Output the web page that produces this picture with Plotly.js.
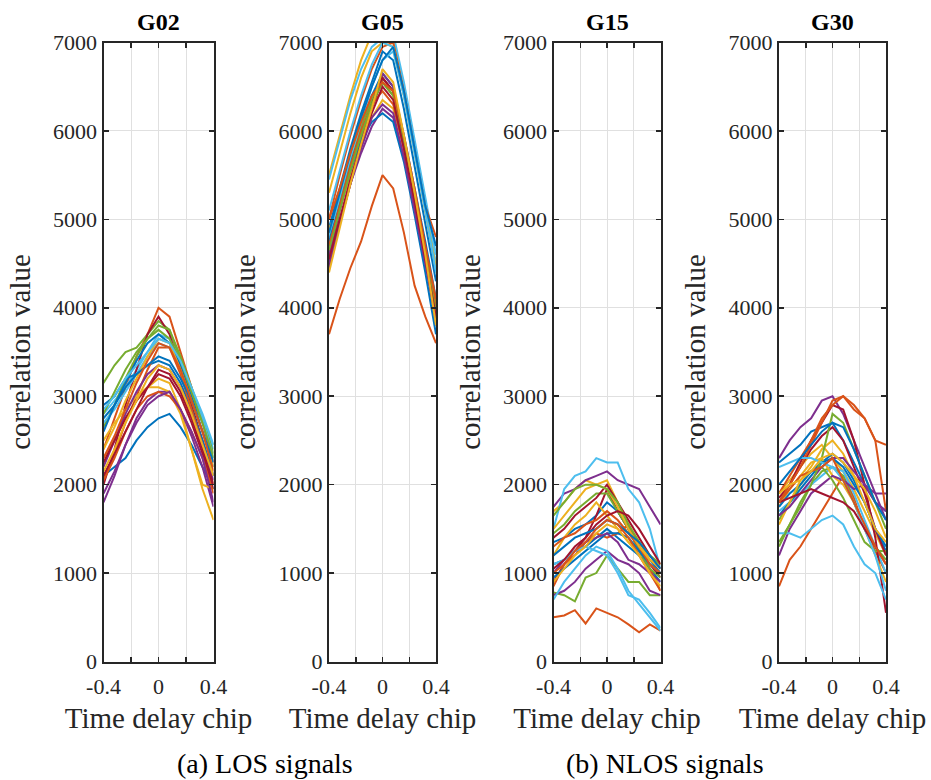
<!DOCTYPE html>
<html>
<head>
<meta charset="utf-8">
<script src="https://cdn.plot.ly/plotly-3.0.1.min.js"></script>
<style>
html,body{margin:0;padding:0;background:#fff;}
#chart{width:931px;height:780px;}
</style>
</head>
<body>
<div id="chart"></div>
<script>
// Time delay (chip) sample positions
const delayChips = [-0.4, -0.32, -0.24, -0.16, -0.08, 0, 0.08, 0.16, 0.24, 0.32, 0.4];

// Satellite names (panel titles)
const satellites = ["G02", "G05", "G15", "G30"];

// Tick labels
const xTickVals = [-0.4, -0.2, 0, 0.2, 0.4];
const xTickText = ["-0.4", "", "0", "", "0.4"];
const yTickVals = [0, 1000, 2000, 3000, 4000, 5000, 6000, 7000];
const yTickText = ["0", "1000", "2000", "3000", "4000", "5000", "6000", "7000"];

// Captions
const captions = ["(a) LOS signals", "(b) NLOS signals"];

// Correlation values per epoch, G02 (LOS)
const corrG02 = [
  [2100, 2200, 2300, 2500, 2650, 2750, 2800, 2650, 2450, 2200, 1950],
  [2400, 2750, 3100, 3450, 3700, 4000, 3900, 3500, 3100, 2700, 2250],
  [2300, 2500, 2750, 2950, 3100, 3200, 3150, 2850, 2400, 1950, 1600],
  [1800, 2100, 2450, 2750, 2950, 3050, 3050, 2850, 2550, 2200, 1750],
  [3150, 3350, 3500, 3550, 3700, 3850, 3750, 3400, 3000, 2700, 2450],
  [2800, 2950, 3100, 3300, 3500, 3700, 3650, 3400, 3050, 2750, 2400],
  [2000, 2400, 2900, 3300, 3700, 3900, 3700, 3300, 2900, 2500, 2100],
  [2900, 3000, 3200, 3250, 3350, 3400, 3350, 3150, 2850, 2500, 2100],
  [2050, 2350, 2700, 3000, 3300, 3550, 3550, 3250, 2850, 2450, 2000],
  [2500, 2700, 2850, 3000, 3100, 3100, 3050, 2800, 2400, 2000, 1950],
  [2200, 2500, 2800, 3050, 3250, 3350, 3300, 3100, 2800, 2450, 2050],
  [2650, 2900, 3200, 3450, 3650, 3800, 3750, 3450, 3100, 2750, 2350],
  [2700, 2850, 3050, 3250, 3450, 3600, 3550, 3350, 3050, 2750, 2300],
  [2250, 2500, 2750, 2950, 3100, 3250, 3200, 3000, 2700, 2350, 1950],
  [2600, 2900, 3150, 3400, 3600, 3700, 3600, 3350, 3000, 2600, 2200],
  [2050, 2300, 2600, 2850, 3000, 3050, 3000, 2850, 2600, 2300, 1900],
  [2400, 2650, 2950, 3200, 3450, 3650, 3600, 3300, 2950, 2600, 2200],
  [1900, 2150, 2450, 2700, 2900, 3000, 3050, 2850, 2600, 2300, 1800],
  [2800, 3050, 3300, 3500, 3650, 3750, 3650, 3400, 3050, 2700, 2300],
  [2850, 3000, 3200, 3350, 3500, 3650, 3600, 3400, 3100, 2800, 2450],
  [2100, 2350, 2600, 2850, 3100, 3300, 3250, 3050, 2750, 2400, 2000],
  [2750, 2900, 3100, 3250, 3350, 3450, 3400, 3200, 2950, 2600, 2250],
  [2300, 2550, 2850, 3150, 3400, 3600, 3550, 3300, 2950, 2600, 2150],
  [2150, 2400, 2700, 2950, 3200, 3350, 3300, 3100, 2800, 2450, 2100]
];

// Correlation values per epoch, G05 (LOS)
const corrG05 = [
  [4700, 5200, 5650, 6050, 6400, 6650, 6500, 5950, 5350, 4750, 4100],
  [3700, 4100, 4450, 4750, 5150, 5500, 5350, 4850, 4250, 3900, 3600],
  [5500, 5950, 6400, 6800, 7100, 7200, 7050, 6450, 5800, 5100, 4400],
  [4450, 4950, 5450, 5900, 6300, 6650, 6500, 5900, 5250, 4550, 3800],
  [4800, 5250, 5700, 6050, 6350, 6600, 6450, 5900, 5300, 4650, 4050],
  [5450, 5900, 6350, 6700, 6950, 7050, 7100, 6550, 5900, 5250, 4600],
  [4600, 5100, 5550, 5950, 6300, 6600, 6450, 5900, 5300, 4700, 4000],
  [4900, 5350, 5800, 6200, 6550, 6900, 6800, 6250, 5600, 4950, 4300],
  [5000, 5500, 5950, 6350, 6700, 6950, 7000, 6450, 5800, 5150, 4800],
  [4900, 5150, 5500, 5850, 6150, 6350, 6250, 5800, 5200, 4600, 4000],
  [4600, 5000, 5400, 5750, 6050, 6250, 6150, 5700, 5100, 4500, 3900],
  [4700, 5150, 5600, 5950, 6300, 6550, 6400, 5850, 5250, 4650, 4000],
  [4800, 5250, 5700, 6100, 6500, 6800, 6900, 6400, 5800, 5150, 4500],
  [4500, 4950, 5400, 5850, 6250, 6600, 6450, 5850, 5200, 4550, 3850],
  [4750, 5150, 5550, 5900, 6100, 6200, 6100, 5650, 5050, 4400, 3700],
  [4700, 5150, 5600, 6000, 6300, 6450, 6300, 5800, 5200, 4600, 4000],
  [5300, 5750, 6200, 6600, 6900, 7000, 6950, 6400, 5750, 5100, 4450],
  [4500, 4950, 5400, 5800, 6150, 6300, 6200, 5700, 5100, 4500, 3900],
  [4650, 5100, 5550, 5950, 6300, 6550, 6400, 5850, 5250, 4600, 3950],
  [5100, 5550, 6000, 6400, 6750, 7000, 6950, 6400, 5750, 5100, 4400],
  [4550, 5000, 5450, 5850, 6200, 6500, 6350, 5800, 5200, 4550, 3900],
  [4850, 5300, 5750, 6150, 6500, 6800, 6950, 6450, 5800, 5150, 4700],
  [5000, 5350, 5750, 6100, 6400, 6550, 6450, 5950, 5350, 4700, 4100],
  [4400, 4900, 5400, 5850, 6250, 6700, 6550, 5950, 5300, 4600, 3800]
];

// Correlation values per epoch, G15 (NLOS)
const corrG15 = [
  [1350, 1400, 1500, 1550, 1650, 1800, 1700, 1500, 1300, 1150, 1000],
  [500, 520, 580, 430, 600, 550, 500, 420, 330, 420, 350],
  [1700, 1800, 1950, 2050, 2000, 2050, 1800, 1550, 1350, 1150, 1050],
  [1750, 1900, 1950, 2050, 2100, 2150, 2050, 2000, 1950, 1750, 1550],
  [780, 750, 680, 950, 1000, 1200, 1050, 900, 900, 750, 750],
  [1500, 1950, 2100, 2150, 2300, 2250, 2250, 1950, 1800, 1500, 1050],
  [900, 1100, 1250, 1400, 1650, 1950, 1700, 1500, 1250, 1100, 950],
  [1100, 1150, 1250, 1300, 1400, 1500, 1400, 1300, 1200, 1050, 900],
  [850, 1100, 1200, 1350, 1450, 1400, 1450, 1550, 1300, 1050, 800],
  [1200, 1400, 1550, 1650, 1800, 1650, 1500, 1350, 1250, 1100, 1000],
  [750, 800, 900, 1050, 1150, 1250, 1150, 1100, 1000, 800, 750],
  [1450, 1550, 1700, 1800, 1900, 1900, 1700, 1500, 1250, 1050, 950],
  [700, 900, 1050, 1200, 1300, 1250, 1050, 800, 650, 500, 350],
  [1400, 1500, 1650, 1750, 1850, 2000, 1800, 1600, 1400, 1200, 1050],
  [950, 1050, 1150, 1250, 1350, 1450, 1450, 1400, 1250, 1100, 1000],
  [1300, 1400, 1450, 1550, 1600, 1700, 1600, 1450, 1300, 1100, 1000],
  [1500, 1650, 1800, 1950, 2000, 1950, 1750, 1500, 1300, 1150, 1100],
  [1000, 1150, 1250, 1350, 1400, 1450, 1350, 1150, 1100, 1000, 900],
  [1650, 1800, 1950, 2000, 2000, 1950, 1800, 1550, 1350, 1200, 1100],
  [1100, 1150, 1250, 1300, 1250, 1200, 1000, 750, 700, 550, 380],
  [1050, 1150, 1300, 1400, 1550, 1650, 1700, 1650, 1500, 1300, 1100],
  [1200, 1300, 1400, 1450, 1500, 1600, 1550, 1450, 1350, 1200, 1050],
  [1000, 1100, 1250, 1350, 1500, 1600, 1550, 1400, 1200, 1000, 800],
  [900, 1050, 1200, 1300, 1450, 1550, 1500, 1350, 1200, 1000, 850]
];

// Correlation values per epoch, G30 (NLOS)
const corrG30 = [
  [2250, 2350, 2450, 2600, 2650, 2700, 2500, 2250, 2000, 1800, 1700],
  [850, 1150, 1300, 1500, 1700, 1900, 2100, 1850, 1500, 1250, 1000],
  [1900, 2050, 2200, 2350, 2450, 2300, 2150, 1950, 1700, 1450, 1200],
  [2300, 2500, 2650, 2750, 2950, 3000, 2800, 2500, 2200, 1900, 1600],
  [1350, 1550, 1800, 2000, 2150, 2200, 2100, 1800, 1500, 1300, 1150],
  [1700, 1800, 1900, 2000, 2100, 2200, 2150, 1900, 1600, 1300, 1000],
  [1800, 2000, 2250, 2500, 2700, 2900, 2850, 2500, 2000, 1400, 550],
  [1650, 1800, 1950, 2100, 2250, 2350, 2250, 2050, 1800, 1500, 1250],
  [1900, 2100, 2300, 2500, 2750, 2900, 3000, 2850, 2750, 2500, 2450],
  [1750, 1950, 2100, 2250, 2300, 2100, 2000, 1800, 1500, 1200, 900],
  [1200, 1500, 1700, 1900, 2000, 2100, 2050, 1950, 2000, 1900, 1900],
  [1600, 1800, 2000, 2150, 2200, 2050, 1850, 1600, 1350, 1250, 1250],
  [1450, 1450, 1400, 1500, 1600, 1650, 1550, 1300, 1100, 1000, 700],
  [1850, 2000, 2200, 2400, 2550, 2650, 2500, 2200, 1900, 1500, 1200],
  [1750, 1900, 2000, 2150, 2250, 2300, 2200, 2000, 1800, 1500, 1300],
  [1800, 2000, 2200, 2450, 2700, 2950, 3000, 2900, 2750, 2500, 1700],
  [1550, 1800, 2050, 2200, 2400, 2500, 2350, 2100, 1800, 1500, 1350],
  [1650, 1750, 1900, 2050, 2200, 2300, 2300, 2150, 2000, 1800, 1700],
  [1300, 1550, 1750, 2000, 2300, 2800, 2700, 2400, 2100, 1800, 1500],
  [2200, 2250, 2300, 2300, 2250, 2200, 2050, 1800, 1500, 1200, 800],
  [1800, 1850, 1900, 1950, 1900, 1850, 1800, 1700, 1500, 1300, 1100],
  [2000, 2150, 2300, 2450, 2600, 2700, 2650, 2400, 2100, 1800, 1600],
  [1800, 1950, 2100, 2150, 2200, 2300, 2050, 1800, 1550, 1300, 1100],
  [1900, 2000, 2050, 2150, 2300, 2350, 2250, 2100, 1950, 1700, 1400]
];

// MATLAB default line colour order
const colorOrder = ["#0072BD", "#D95319", "#EDB120", "#7E2F8E", "#77AC30", "#4DBEEE", "#A2142F"];

const panels = [corrG02, corrG05, corrG15, corrG30];
const W = 931, H = 780;
const xPix = [[103.5, 213.5], [329, 436], [553.5, 660.5], [779, 886]];
const yTop = 42.5, yBot = 661.5;

const traces = [];
panels.forEach((series, p) => {
  const ax = p === 0 ? "" : String(p + 1);
  series.forEach((vals, i) => {
    traces.push({
      type: "scatter", mode: "lines",
      x: delayChips, y: vals,
      xaxis: "x" + ax, yaxis: "y" + ax,
      line: {color: colorOrder[i % colorOrder.length], width: 2},
      showlegend: false, hoverinfo: "skip"
    });
  });
});

const font = "'Liberation Serif'";
const axColor = "#262626";
const layout = {
  width: W, height: H,
  margin: {l: 0, r: 0, t: 0, b: 0},
  paper_bgcolor: "#ffffff", plot_bgcolor: "#ffffff",
  showlegend: false,
  font: {family: font, color: axColor},
  annotations: []
};

satellites.forEach((name, p) => {
  const ax = p === 0 ? "" : String(p + 1);
  const d = [xPix[p][0] / W, xPix[p][1] / W];
  layout["xaxis" + ax] = {
    domain: d, anchor: "y" + ax, range: [-0.4, 0.4],
    tickmode: "array", tickvals: xTickVals, ticktext: xTickText,
    ticks: "inside", ticklen: 5, tickwidth: 1.5, tickcolor: axColor,
    showline: true, linecolor: axColor, linewidth: 2, mirror: "ticks",
    showgrid: true, gridcolor: "#e0e0e0", gridwidth: 1, zeroline: false,
    tickfont: {family: font, size: 22, color: axColor},
    ticklabelstandoff: 4,
    title: {text: "Time delay chip", font: {family: font, size: 29, color: axColor}, standoff: 10},
    automargin: false, fixedrange: true
  };
  layout["yaxis" + ax] = {
    domain: [1 - yBot / H, 1 - yTop / H], anchor: "x" + ax, range: [0, 7000],
    tickmode: "array", tickvals: yTickVals, ticktext: yTickText,
    ticks: "inside", ticklen: 5, tickwidth: 1.5, tickcolor: axColor,
    showline: true, linecolor: axColor, linewidth: 2, mirror: "ticks",
    showgrid: true, gridcolor: "#e0e0e0", gridwidth: 1, zeroline: false,
    tickfont: {family: font, size: 22, color: axColor},
    title: {text: "correlation value", font: {family: font, size: 29, color: axColor}, standoff: 14},
    automargin: false, fixedrange: true
  };
  layout.annotations.push({
    text: "<b>" + name + "</b>", xref: "paper", yref: "paper",
    x: (d[0] + d[1]) / 2, y: 1 - 22 / H, xanchor: "center", yanchor: "middle",
    showarrow: false, font: {family: font, size: 24, color: "#000"}
  });
});

layout.annotations.push({
  text: captions[0], xref: "paper", yref: "paper", x: 265 / W, y: 1 - 763 / H,
  xanchor: "center", yanchor: "middle", showarrow: false,
  font: {family: font, size: 28, color: "#000"}
});
layout.annotations.push({
  text: captions[1], xref: "paper", yref: "paper", x: 665 / W, y: 1 - 763 / H,
  xanchor: "center", yanchor: "middle", showarrow: false,
  font: {family: font, size: 28, color: "#000"}
});

Plotly.newPlot("chart", traces, layout, {staticPlot: true, displayModeBar: false});
</script>
</body>
</html>
